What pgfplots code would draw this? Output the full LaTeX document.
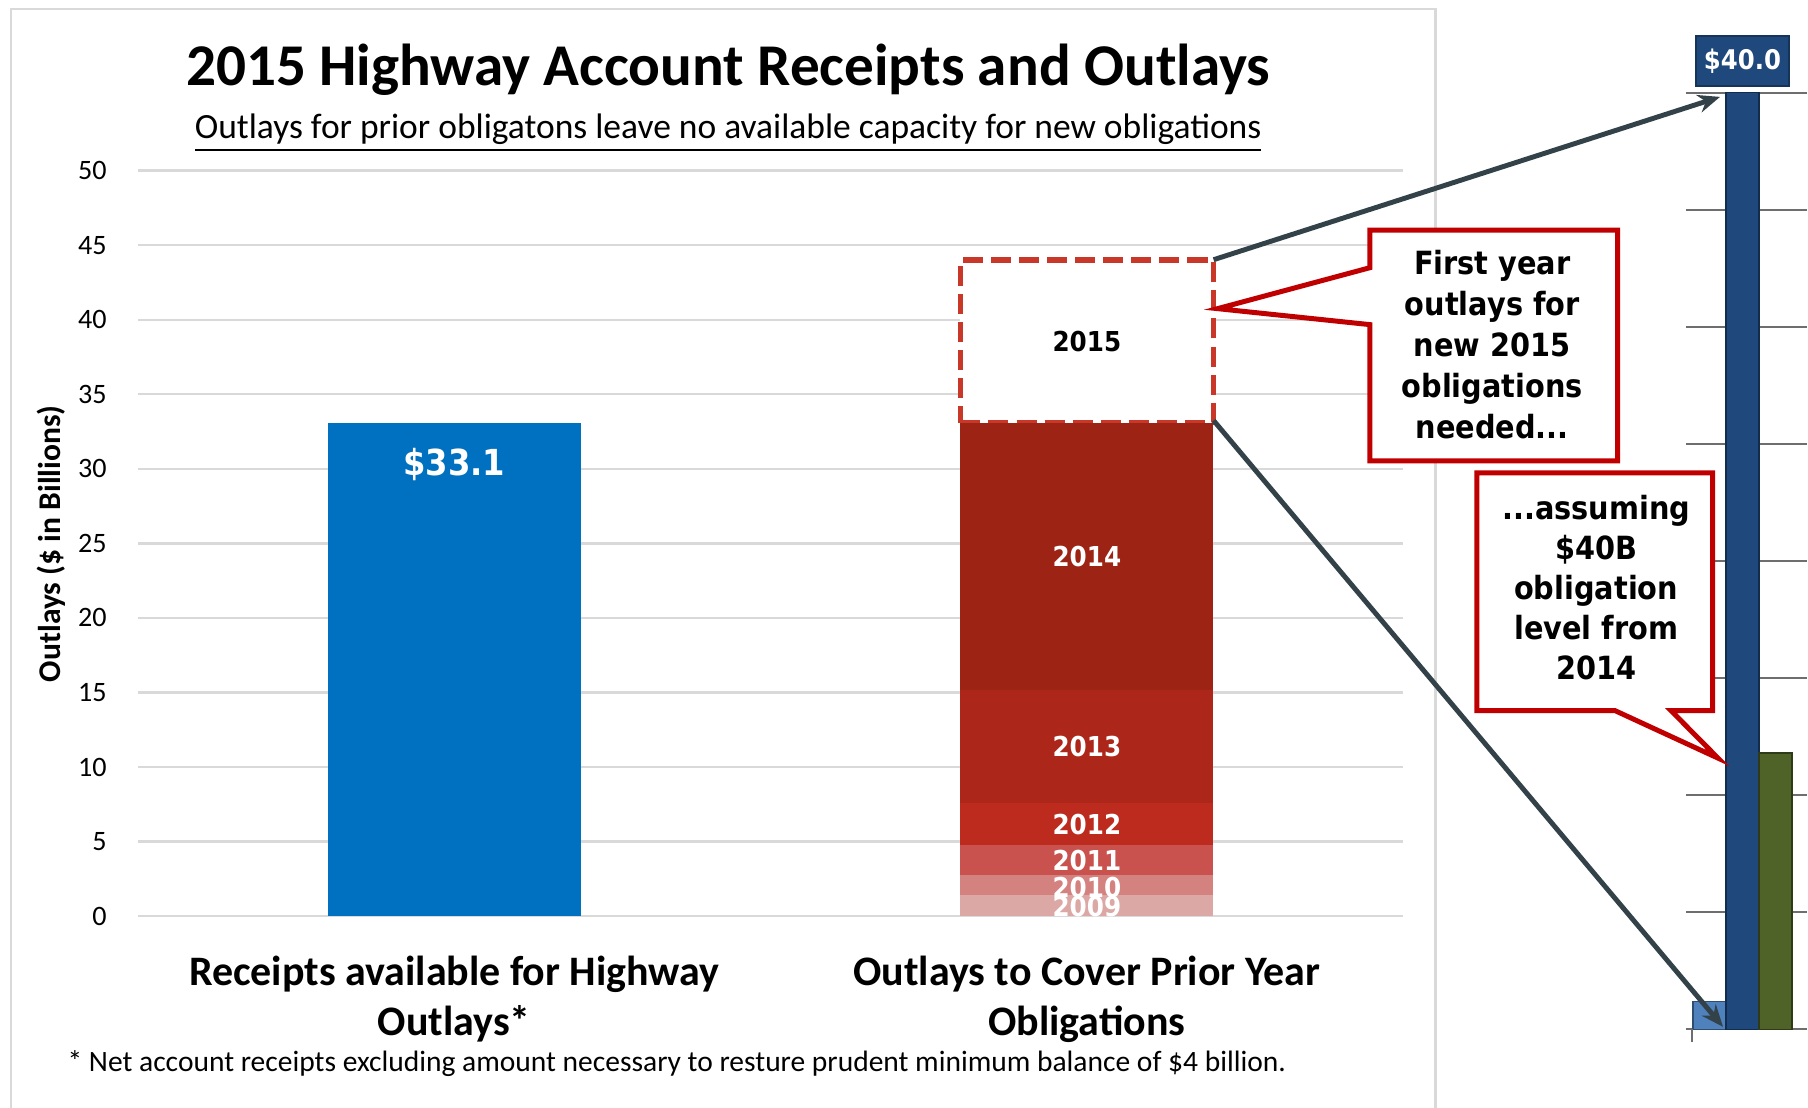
\documentclass[border=0pt]{standalone}
\usepackage{pgfplots}
\pgfplotsset{compat=1.18}
\usetikzlibrary{arrows.meta}
\usepackage{fontspec}
\setmainfont{Carlito}
\newfontfamily\tah[FakeStretch=0.9]{DejaVu Sans}
\definecolor{barblue}{HTML}{0070C0}
\definecolor{c09}{RGB}{220,168,165}
\definecolor{c10}{RGB}{212,130,127}
\definecolor{c11}{RGB}{201,82,79}
\definecolor{c12}{RGB}{188,43,30}
\definecolor{c13}{RGB}{172,38,25}
\definecolor{c14}{RGB}{157,35,21}
\definecolor{dashred}{RGB}{200,55,40}
\definecolor{callred}{HTML}{C00000}
\definecolor{gridgray}{RGB}{217,217,217}
\definecolor{framegray}{RGB}{217,217,217}
\definecolor{arrowgray}{RGB}{50,66,72}
\definecolor{insetgrid}{RGB}{110,110,110}
\definecolor{ilblue}{RGB}{79,129,189}
\definecolor{idblue}{RGB}{31,73,125}
\definecolor{igreen}{RGB}{79,98,40}
\pgfplotsset{mainframe/.style={
  at={(1.38cm,-9.167cm)}, anchor=south west,
  scale only axis, width=12.66cm, height=7.46cm,
  xmin=-0.5, xmax=1.5, ymin=0, ymax=50}}
\begin{document}
\begin{tikzpicture}
\begin{scope}[x=0.01cm,y=-0.01cm]
\useasboundingbox (0,0) rectangle (1808,1109);
\draw[framegray,line width=0.7pt] (11,1130) -- (11,9) -- (1437,9) -- (1437,1130);
\end{scope}
% main axis: receipts
\begin{axis}[
  mainframe,
  axis line style={draw=none},
  tick style={draw=none},
  ytick={0,5,...,50},
  ymajorgrids, major grid style={gridgray, line width=0.65pt},
  xtick={0,1},
  xticklabels={{Receipts available for Highway\\Outlays*},{Outlays to Cover Prior Year\\Obligations}},
  xticklabel style={align=center, font=\fontsize{11.95}{14.4}\selectfont\bfseries, yshift=-0.12cm},
  yticklabel style={font=\fontsize{8}{9}\selectfont, xshift=-0.19cm},
  /pgf/number format/assume math mode=true,
  ylabel={Outlays (\$ in Billions)},
  ylabel style={at={(axis description cs:-0.0687,0.4996)}, anchor=center, font=\fontsize{9}{10}\selectfont\bfseries},
  ybar, bar width=0.4, bar shift=0pt,
]
\addplot[fill=barblue, draw=none] coordinates {(0,33.1)};
\node[font=\tah\bfseries\fontsize{10.2}{12}\selectfont, text=white] at (axis cs:0,30.3) {\$33.1};
\end{axis}
% main axis: stacked prior-year outlays
\begin{axis}[
  mainframe,
  hide axis,
  ybar stacked, bar width=0.4,
]
\addplot[fill=c09, draw=none] coordinates {(1,1.4)};
\addplot[fill=c10, draw=none] coordinates {(1,1.35)};
\addplot[fill=c11, draw=none] coordinates {(1,2.0)};
\addplot[fill=c12, draw=none] coordinates {(1,2.85)};
\addplot[fill=c13, draw=none] coordinates {(1,7.6)};
\addplot[fill=c14, draw=none] coordinates {(1,17.9)};
\addplot[fill=white, draw=dashred, line width=1.5pt, dash pattern=on 5.7pt off 2.3pt] coordinates {(1,10.9)};
\end{axis}
% segment labels
\begin{axis}[mainframe, hide axis]
\node[font=\tah\bfseries\fontsize{7.8}{9}\selectfont, text=black] at (axis cs:1,38.55) {2015};
\node[font=\tah\bfseries\fontsize{7.8}{9}\selectfont, text=white] at (axis cs:1,24.15) {2014};
\node[font=\tah\bfseries\fontsize{7.8}{9}\selectfont, text=white] at (axis cs:1,11.4) {2013};
\node[font=\tah\bfseries\fontsize{7.8}{9}\selectfont, text=white] at (axis cs:1,6.15) {2012};
\node[font=\tah\bfseries\fontsize{7.8}{9}\selectfont, text=white] at (axis cs:1,3.7) {2011};
\node[font=\tah\bfseries\fontsize{7.8}{9}\selectfont, text=white] at (axis cs:1,1.95) {2010};
\node[font=\tah\bfseries\fontsize{7.8}{9}\selectfont, text=white] at (axis cs:1,0.62) {2009};
\end{axis}
% inset axis on the right
\begin{axis}[
  at={(16.87cm,-10.30cm)}, anchor=south west,
  scale only axis, width=1.21cm, height=9.373cm,
  xmin=-0.18, xmax=3.485, ymin=0, ymax=40,
  axis line style={draw=none}, tick style={draw=none},
  xtick=\empty, ytick={0,5,...,40}, yticklabel=\empty,
  ymajorgrids, major grid style={insetgrid, line width=0.6pt},
  ybar, bar width=1, bar shift=0pt, clip=false,
]
\addplot[fill=ilblue, draw=ilblue!60!black, line width=0.4pt] coordinates {(0.53,1.2)};
\addplot[fill=idblue, draw=idblue!60!black, line width=0.4pt] coordinates {(1.53,40)};
\addplot[fill=igreen, draw=igreen!60!black, line width=0.4pt] coordinates {(2.53,11.8)};
\draw[insetgrid, line width=0.6pt] (axis cs:0,0) -- ++(0pt,-0.13cm);
\node[fill=idblue, draw=idblue!70!black, line width=0.6pt, text=white, font=\tah\bfseries\fontsize{7.7}{9}\selectfont, minimum width=0.93cm, minimum height=0.5cm, anchor=south, inner sep=0pt] at ([yshift=0.057cm]axis cs:1.53,40) {\$40.0};
\end{axis}
\begin{scope}[x=0.01cm,y=-0.01cm]
\draw[arrowgray, line width=1.4pt, -{Stealth[length=0.22cm,width=0.18cm]}] (1215,260) -- (1722,97);
\draw[arrowgray, line width=1.4pt, -{Stealth[length=0.22cm,width=0.18cm]}] (1215,421) -- (1725,1028);
\path[draw=callred, fill=white, line width=1.42pt, line join=miter] (1371.5,230.5) -- (1619.5,230.5) -- (1619.5,461.5) -- (1371.5,461.5) -- (1371.5,325) -- (1219,309) -- (1371.5,268) -- cycle;
\path[draw=callred, fill=white, line width=1.42pt, line join=miter] (1478.5,473.5) -- (1714.5,473.5) -- (1714.5,711.5) -- (1673,711.5) -- (1720,759) -- (1617,711.5) -- (1478.5,711.5) -- cycle;
\node[align=center, font=\tah\bfseries\fontsize{9.1}{11.67}\selectfont] at (1494,345) {First year\\outlays for\\new 2015\\obligations\\needed...};
\node[align=center, font=\tah\bfseries\fontsize{9.1}{11.4}\selectfont] at (1598,588) {...assuming\\\$40B\\obligation\\level from\\2014};
\node[anchor=base, font=\bfseries\fontsize{16.85}{19}\selectfont] at (729,86) {2015 Highway Account Receipts and Outlays};
\node[anchor=base, font=\fontsize{10.1}{12}\selectfont] at (729,139) {\underline{Outlays for prior obligatons leave no available capacity for new obligations}};
\node[anchor=base west, font=\fontsize{8.4}{10}\selectfont, inner sep=0pt] at (67,1073) {* Net account receipts excluding amount necessary to resture prudent minimum balance of \$4 billion.};
\end{scope}
\end{tikzpicture}
\end{document}
